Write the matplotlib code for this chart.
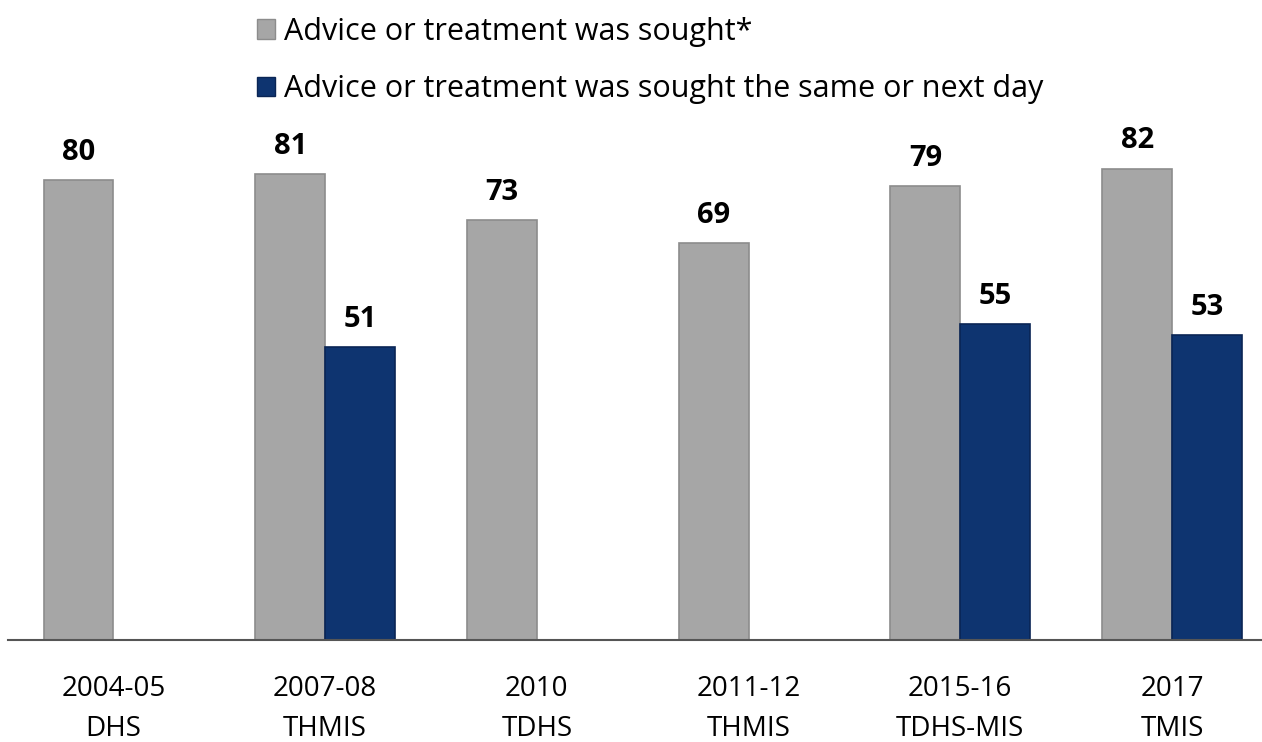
import numpy as np
import matplotlib.pyplot as plt
from matplotlib.patches import Patch

# survey labels and values
surveys = ["2004-05\nDHS", "2007-08\nTHMIS", "2010\nTDHS", "2011-12\nTHMIS", "2015-16\nTDHS-MIS", "2017\nTMIS"]
sought = [80, 81, 73, 69, 79, 82]
same_day = [None, 51, None, None, 55, 53]

gray = "#A6A6A6"
navy = "#0E3470"

plt.rcParams['font.family'] = ['Open Sans', 'DejaVu Sans']

fig = plt.figure(figsize=(12.62, 7.42), dpi=100)
ax = fig.add_axes([0.006, 102 / 742, 0.994, 575 / 742])

x = np.arange(len(surveys))
w = 0.33

ax.bar(x - w / 2, sought, width=w, color=gray, edgecolor="#8C8C8C", linewidth=1.2)
for xi, v in zip(x, sought):
    ax.text(xi - w / 2, v + 2.3, str(v), ha="center", va="bottom", fontsize=21, fontweight="bold")

for xi, v in zip(x, same_day):
    if v is None:
        continue
    ax.bar(xi + w / 2, v, width=w, color=navy, edgecolor="#0A2555", linewidth=1.2)
    ax.text(xi + w / 2, v + 2.3, str(v), ha="center", va="bottom", fontsize=21, fontweight="bold")

ax.set_xlim(-0.5, 5.425)
ax.set_ylim(0, 100)
ax.set_xticks(x)
ax.set_xticklabels(surveys, fontsize=20, linespacing=1.6)
ax.tick_params(axis="x", length=0, pad=25)
ax.set_yticks([])
for s in ["top", "right", "left"]:
    ax.spines[s].set_visible(False)
ax.spines["bottom"].set_color("#555555")
ax.spines["bottom"].set_linewidth(1.5)

handles = [Patch(facecolor=gray, edgecolor="#8C8C8C"), Patch(facecolor=navy, edgecolor="#0A2555")]
labels = ["Advice or treatment was sought*", "Advice or treatment was sought the same or next day"]
fig.legend(handles, labels, loc="upper left", bbox_to_anchor=(240 / 1262, 1.0), frameon=False,
           fontsize=22, handlelength=0.6, handleheight=0.6, handletextpad=0.3, labelspacing=0.9,
           borderaxespad=0.15)

fig.savefig("out.png", dpi=100)
